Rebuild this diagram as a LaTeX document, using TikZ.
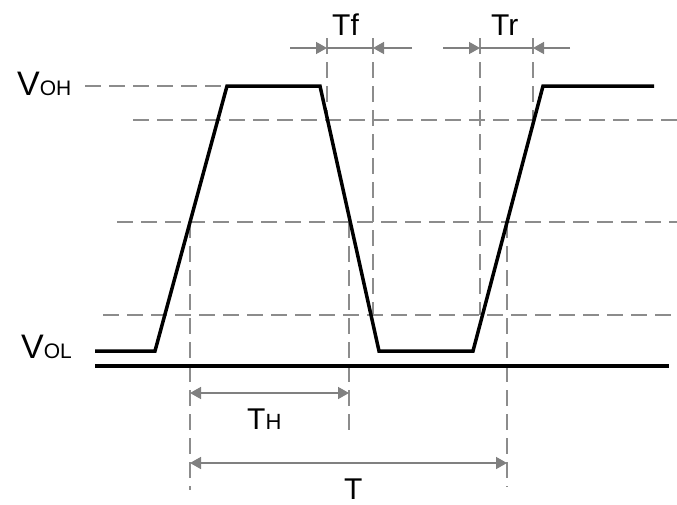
\documentclass[tikz,border=0pt]{standalone}
\usepackage{fontspec}
\setmainfont{Liberation Sans}
\usetikzlibrary{arrows.meta}
\definecolor{dimgray}{HTML}{808080}
\definecolor{guidegray}{HTML}{8C8C8C}
\newcommand{\LabBig}{\fontsize{34}{38}\selectfont}
\newcommand{\LabMid}{\fontsize{30}{34}\selectfont}
\newcommand{\LabSmall}{\fontsize{21}{24}\selectfont}
\tikzset{
  wave/.style={line width=3.5pt, black},
  guide/.style={guidegray, line width=1.5pt, dash pattern=on 16pt off 8pt},
  dimline/.style={dimgray, line width=1.5pt},
  dimtip/.style={-{Triangle[length=11pt,width=12pt]}},
  dimboth/.style={{Triangle[length=11pt,width=12pt]}-{Triangle[length=11pt,width=12pt]}},
  lbl/.style={inner sep=0pt, anchor=base west},
}
\begin{document}
\begin{tikzpicture}[x=1pt,y=-1pt]
\useasboundingbox[fill=white] (0,0) rectangle (677,504);

% horizontal guide lines
\coordinate (hOHa) at (85,86);   \coordinate (hOHb) at (226,86);
\coordinate (h90a) at (133,120); \coordinate (h90b) at (677,120);
\coordinate (h50a) at (117,222); \coordinate (h50b) at (677,222);
\coordinate (h10a) at (103,315); \coordinate (h10b) at (677,315);
\draw[guide] (hOHa) -- (hOHb);
\draw[guide] (h90a) -- (h90b);
\draw[guide] (h50a) -- (h50b);
\draw[guide] (h10a) -- (h10b);

% vertical guide lines
\coordinate (v1a) at (327,38);  \coordinate (v1b) at (327,120);
\coordinate (v2a) at (373,38);  \coordinate (v2b) at (373,315);
\coordinate (v3a) at (480,38);  \coordinate (v3b) at (480,315);
\coordinate (v4a) at (533,38);  \coordinate (v4b) at (533,120);
\coordinate (v5a) at (190,222); \coordinate (v5b) at (190,490);
\coordinate (v6a) at (349,222); \coordinate (v6b) at (349,432);
\coordinate (v7a) at (507,222); \coordinate (v7b) at (507,487);
\draw[guide] (v1a) -- (v1b);
\draw[guide] (v2a) -- (v2b);
\draw[guide] (v3a) -- (v3b);
\draw[guide] (v4a) -- (v4b);
\draw[guide] (v5a) -- (v5b);
\draw[guide] (v6a) -- (v6b);
\draw[guide] (v7a) -- (v7b);

% waveform
\coordinate (w0) at (95,351);
\coordinate (w1) at (155,351);
\coordinate (w2) at (227,86);
\coordinate (w3) at (320,86);
\coordinate (w4) at (379,351);
\coordinate (w5) at (473,351);
\coordinate (w6) at (543,86);
\coordinate (w7) at (654,86);
\draw[wave] (w0) -- (w1) -- (w2) -- (w3) -- (w4) -- (w5) -- (w6) -- (w7);

% ground line
\coordinate (g0) at (95,366);
\coordinate (g1) at (669,366);
\draw[wave] (g0) -- (g1);

% Tf dimension
\coordinate (tfLt) at (290,48); \coordinate (tfL) at (327,48);
\coordinate (tfR) at (373,48);  \coordinate (tfRt) at (412,48);
\draw[dimline,dimtip] (tfLt) -- (tfL);
\draw[dimline] (tfL) -- (tfR);
\draw[dimline,dimtip] (tfRt) -- (tfR);

% Tr dimension
\coordinate (trLt) at (443,48); \coordinate (trL) at (480,48);
\coordinate (trR) at (533,48);  \coordinate (trRt) at (570,48);
\draw[dimline,dimtip] (trLt) -- (trL);
\draw[dimline] (trL) -- (trR);
\draw[dimline,dimtip] (trRt) -- (trR);

% TH dimension
\coordinate (thL) at (190,393); \coordinate (thR) at (349,393);
\draw[dimline,dimboth] (thL) -- (thR);

% T dimension
\coordinate (tL) at (190,463); \coordinate (tR) at (507,463);
\draw[dimline,dimboth] (tL) -- (tR);

% labels
\node[lbl] (lvoh) at (17,95) {\LabBig V\LabSmall OH};
\node[lbl] (lvol) at (21,358) {\LabBig V\LabSmall OL};
\node[lbl] (ltf) at (332,35) {\LabMid Tf};
\node[lbl] (ltr) at (491,35) {\LabMid Tr};
\node[lbl] (lth) at (247,429) {\LabMid T\fontsize{22}{25}\selectfont H};
\node[lbl] (lt) at (344,499) {\LabMid T};
\end{tikzpicture}
\end{document}
